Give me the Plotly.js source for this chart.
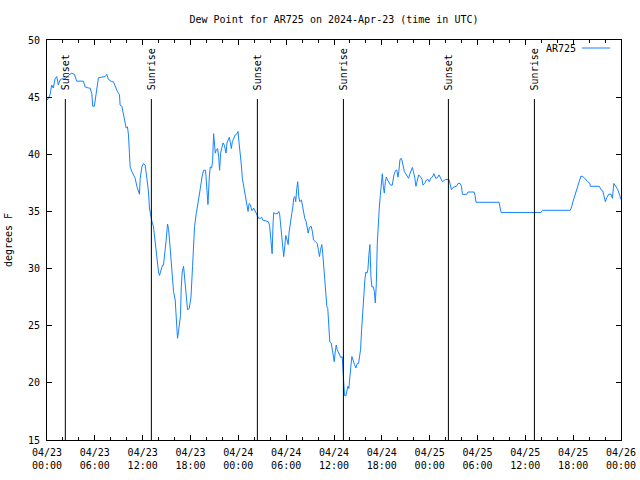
<!DOCTYPE html>
<html>
<head>
<meta charset="utf-8">
<script src="https://cdn.plot.ly/plotly-3.0.1.min.js"></script>
<style>html,body{margin:0;padding:0;background:#fff;}#chart{width:640px;height:480px;}</style>
</head>
<body>
<div id="chart"></div>
<script>
// Hours since 2024-04-23 00:00 UTC
const hours = [
0.04,0.38,0.59,0.79,1.01,1.22,1.42,1.63,1.85,2.26,
2.68,3.10,3.43,3.73,4.56,4.78,5.19,5.40,5.62,5.74,
5.94,6.25,6.45,7.29,7.50,7.70,8.13,8.33,8.55,8.83,
9.09,9.17,9.39,9.51,9.68,9.93,10.09,10.22,10.34,10.43,
10.64,10.84,11.06,11.27,11.47,11.60,11.69,11.90,12.10,12.31,
12.53,12.73,12.85,13.03,13.20,13.35,13.58,13.79,13.99,14.11,
14.29,14.49,14.61,14.83,14.95,15.12,15.24,15.37,15.54,15.67,
15.87,16.08,16.21,16.37,16.50,16.62,16.75,16.84,16.96,17.13,
17.25,17.43,17.63,17.84,18.06,18.26,18.38,18.51,18.72,18.89,
19.06,19.23,19.44,19.64,19.89,20.07,20.19,20.36,20.48,20.65,
20.77,20.90,20.98,21.11,21.24,21.40,21.53,21.65,21.78,21.95,
22.08,22.24,22.46,22.58,22.74,22.87,23.00,23.12,23.25,23.41,
23.62,23.84,23.96,24.09,24.25,24.38,24.50,24.67,24.79,24.97,
25.09,25.22,25.35,25.51,25.67,25.80,25.92,26.14,26.35,26.55,
26.77,26.93,27.05,27.27,27.61,27.77,27.93,28.11,28.24,28.36,
28.44,28.65,28.90,29.07,29.19,29.37,29.49,29.62,29.69,29.82,
29.95,30.12,30.25,30.37,30.53,30.70,30.82,30.95,31.08,31.20,
31.33,31.45,31.58,31.70,31.92,32.08,32.21,32.33,32.51,32.64,
32.76,32.92,33.14,33.30,33.43,33.68,33.89,34.05,34.18,34.30,
34.47,34.59,34.72,34.85,34.97,35.10,35.22,35.35,35.47,35.65,
35.78,35.90,36.03,36.15,36.28,36.40,36.53,36.69,36.86,37.03,
37.11,37.20,37.32,37.48,37.61,37.74,37.86,37.99,38.11,38.24,
38.41,38.58,38.74,38.92,39.08,39.33,39.46,39.62,39.75,39.87,
40.00,40.13,40.25,40.38,40.50,40.63,40.75,40.93,41.06,41.18,
41.31,41.43,41.56,41.68,41.81,41.93,42.06,42.18,42.31,42.44,
42.56,42.72,42.89,43.10,43.31,43.52,43.73,43.89,44.02,44.14,
44.27,44.40,44.52,44.65,44.82,44.99,45.20,45.36,45.53,45.70,
45.83,45.96,46.12,46.28,46.46,46.62,46.87,47.04,47.16,47.37,
47.59,47.79,47.96,48.13,48.34,48.54,48.76,48.97,49.17,49.38,
49.60,49.80,50.01,50.43,50.55,50.73,50.93,51.36,51.56,51.81,
51.99,52.11,52.65,52.81,53.57,53.69,53.82,56.71,56.84,56.96,
61.95,62.16,65.63,65.81,65.97,66.13,66.31,66.47,66.64,66.81,
66.98,67.31,67.52,67.82,68.11,68.15,69.28,69.49,69.71,69.91,
70.04,70.21,70.46,70.75,70.92,71.10,71.22,71.35,71.60,71.85,
71.98
];
const dewF = [
44.75,45.2,46.06,45.8,46.6,46.8,46.06,46.5,46.6,46.6,
46.9,47.1,47.0,46.4,46.4,45.9,45.8,45.8,45.3,44.2,
44.2,45.8,46.7,46.8,47.0,46.55,46.35,46.35,45.9,45.5,
45.2,44.3,44.2,43.7,43.15,42.3,42.4,41.7,40.1,38.9,
38.5,38.2,37.9,37.2,36.7,36.5,37.9,38.9,39.2,39.06,
37.9,36.7,35.3,34.4,34.0,33.7,32.2,30.45,29.7,29.4,
29.9,30.3,30.3,31.6,32.5,33.9,33.5,32.5,31.2,29.6,
28.0,27.25,25.8,23.9,24.5,25.2,25.9,28.4,29.7,30.2,
29.3,27.4,26.4,26.5,27.5,30.2,31.9,33.7,34.8,35.7,
36.3,37.0,38.0,38.6,38.6,36.6,35.6,38.0,38.9,38.8,
39.4,41.8,41.0,40.1,40.4,40.5,39.8,38.6,40.1,40.5,
41.0,40.8,40.1,41.0,41.4,41.5,41.0,40.5,41.1,41.4,
41.7,41.8,42.0,41.0,40.1,39.06,37.9,37.2,36.4,36.0,
35.4,35.0,35.7,35.6,35.1,35.1,35.3,35.0,34.8,34.4,
34.4,34.5,34.25,34.2,34.1,34.1,33.7,32.2,31.3,34.0,
34.9,34.8,34.8,35.0,34.7,33.4,32.35,31.5,31.05,31.9,
32.9,32.5,32.1,33.2,34.25,34.8,35.3,36.15,36.3,35.85,
37.0,37.6,36.3,35.85,36.0,35.4,34.8,34.4,34.1,33.5,
33.1,33.6,33.7,33.2,32.5,32.35,32.2,31.6,31.05,31.6,
32.1,31.3,30.2,28.85,27.5,26.7,26.5,24.5,23.6,23.5,
23.0,22.3,21.85,22.7,23.3,22.9,22.7,22.4,22.2,22.3,
21.4,20.0,18.9,18.85,19.4,19.7,19.5,20.25,21.4,22.3,
21.85,21.6,21.3,21.7,21.7,22.9,24.6,25.9,27.7,29.0,
29.7,29.6,29.9,31.2,32.1,29.3,28.4,28.4,28.0,27.0,
28.7,32.2,34.4,35.3,36.4,37.5,38.3,37.2,36.6,37.6,
38.0,37.75,37.5,37.3,37.3,38.2,38.6,38.6,38.0,38.5,
39.5,39.65,39.5,38.9,38.5,38.3,38.0,37.9,38.3,38.6,
38.85,38.5,38.0,37.2,37.9,38.2,38.0,37.8,37.3,37.45,
37.75,37.8,37.6,37.9,38.0,38.3,37.9,37.95,38.2,37.9,
37.6,37.7,37.8,37.8,37.45,36.9,37.1,37.2,37.45,37.45,
37.2,36.5,36.5,36.7,36.7,36.4,35.8,35.8,35.3,34.9,
34.9,35.1,35.1,35.4,35.85,36.2,36.6,36.9,37.3,37.8,
38.1,38.0,37.8,37.6,37.45,37.2,37.2,36.9,36.8,36.15,
35.85,36.2,36.5,36.5,36.15,37.45,37.3,37.2,36.9,36.4,
36.05
];
const sunHours = [2.30, 13.09, 26.39, 37.18, 50.35, 61.14];
const sunLabels = ["Sunset", "Sunrise", "Sunset", "Sunrise", "Sunset", "Sunrise"];
const seriesName = "AR725";
const titleText = "Dew Point for AR725 on 2024-Apr-23 (time in UTC)";
const yTitle = "degrees F";
const xStart = "2024-04-23 00:00:00";
const xEnd = "2024-04-26 00:00:00";

const startMs = Date.UTC(2024, 3, 23);
function toDate(h) {
  return new Date(startMs + Math.round(h * 3600000)).toISOString().slice(0, 19).replace('T', ' ');
}
const xDates = hours.map(toDate);
const sunDates = sunHours.map(toDate);

const FONT = 'DejaVu Sans Mono, monospace';
const lineTop = 0.8525;

const shapes = sunDates.map(d => ({
  type: 'line', xref: 'x', yref: 'paper', x0: d, x1: d, y0: 0, y1: lineTop,
  line: {color: 'black', width: 1}
}));
shapes.push({type: 'line', xref: 'paper', yref: 'paper', x0: 0.932, x1: 0.981, y0: 0.98, y1: 0.98,
  line: {color: '#1583ff', width: 1}});

const annotations = sunDates.map((d, i) => ({
  x: d, xref: 'x', y: 0.87, yref: 'paper', text: sunLabels[i], textangle: -90,
  showarrow: false, xanchor: 'center', yanchor: 'bottom', font: {family: FONT, size: 10, color: 'black'}
}));
annotations.push({x: 0.925, xref: 'paper', y: 0.98, yref: 'paper', text: seriesName, showarrow: false,
  xanchor: 'right', yanchor: 'middle', font: {family: FONT, size: 10, color: 'black'}});

const trace = {
  type: 'scatter', mode: 'lines', name: seriesName, x: xDates, y: dewF,
  line: {color: '#1583ff', width: 1}
};

const layout = {
  width: 640, height: 480,
  margin: {l: 47, r: 19, t: 40, b: 40, pad: 0},
  paper_bgcolor: 'white', plot_bgcolor: 'white',
  font: {family: FONT, size: 10, color: 'black'},
  showlegend: false,
  title: {text: titleText, x: 0.5, xref: 'paper', xanchor: 'center', y: 1 - 19/480, yref: 'container', yanchor: 'middle',
    font: {family: FONT, size: 10, color: 'black'}},
  xaxis: {
    type: 'date', range: [xStart, xEnd], tickmode: 'linear', tick0: xStart, dtick: 6 * 3600000,
    tickformat: '%m/%d<br>%H:%M', ticks: 'inside', ticklen: 5, tickcolor: 'black', tickwidth: 1,
    ticklabelstandoff: 3,
    showline: true, linecolor: 'black', linewidth: 1, mirror: 'ticks', showgrid: false, zeroline: false,
    minor: {tick0: xStart, dtick: 2 * 3600000, ticks: 'inside', ticklen: 3, tickcolor: 'black', showgrid: false},
    tickfont: {family: FONT, size: 10, color: 'black'}
  },
  yaxis: {
    range: [15, 50], tickmode: 'linear', tick0: 15, dtick: 5, ticks: 'inside', ticklen: 5, tickcolor: 'black',
    ticklabelstandoff: 4,
    showline: true, linecolor: 'black', linewidth: 1, mirror: 'ticks', showgrid: false, zeroline: false,
    tickfont: {family: FONT, size: 10, color: 'black'},
    title: {text: yTitle, standoff: 13, font: {family: FONT, size: 10, color: 'black'}}
  },
  shapes: shapes,
  annotations: annotations
};

Plotly.newPlot('chart', [trace], layout, {displayModeBar: false, staticPlot: true});
</script>
</body>
</html>
